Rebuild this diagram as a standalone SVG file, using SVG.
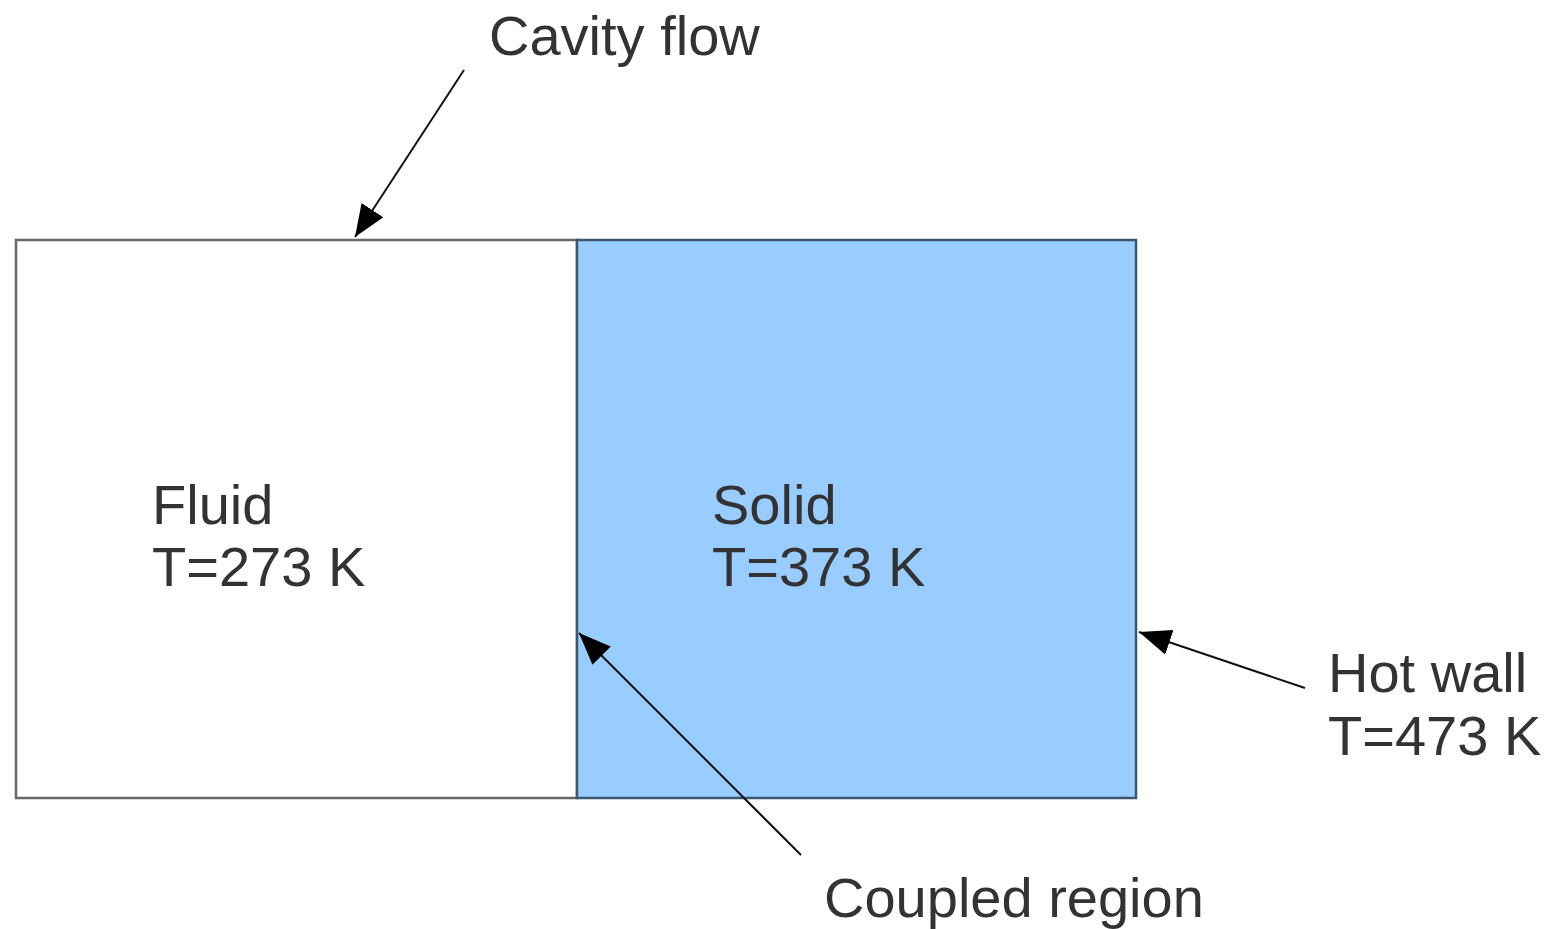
<svg xmlns="http://www.w3.org/2000/svg" width="1552" height="929" viewBox="0 0 1552 929">
<style>
text { font-family: "Liberation Sans", Arial, sans-serif; font-size: 56px; fill: #333333; }
.conn { stroke: #111111; stroke-width: 2; fill: none; marker-end: url(#ah); }
</style>
<defs>
<marker id="ah" markerUnits="userSpaceOnUse" markerWidth="34" markerHeight="28" refX="32" refY="13" orient="auto">
<path d="M0,0 L32,13 L0,26 Z" fill="#000000"/>
</marker>
</defs>
<rect width="1552" height="929" fill="#ffffff"/>
<g id="fluid">
<rect x="16" y="240" width="561" height="558" fill="#ffffff" stroke="#666666" stroke-width="2.5"/>
<text x="152" y="524">Fluid</text>
<text x="152" y="586">T=273 K</text>
</g>
<g id="solid">
<rect x="577" y="240" width="559" height="558" fill="#99ccff" stroke="#3d5670" stroke-width="2.5"/>
<text x="712" y="524">Solid</text>
<text x="712" y="586">T=373 K</text>
</g>
<g id="cavity-label"><text x="489" y="55">Cavity flow</text></g>
<g id="hotwall-label">
<text x="1328" y="692">Hot wall</text>
<text x="1328" y="755">T=473 K</text>
</g>
<g id="coupled-label"><text x="824" y="917">Coupled region</text></g>
<g id="connectors">
<line class="conn" x1="464" y1="70" x2="355" y2="237"/>
<line class="conn" x1="801" y1="855" x2="579" y2="633"/>
<line class="conn" x1="1305" y1="688" x2="1139" y2="632"/>
</g>
</svg>
